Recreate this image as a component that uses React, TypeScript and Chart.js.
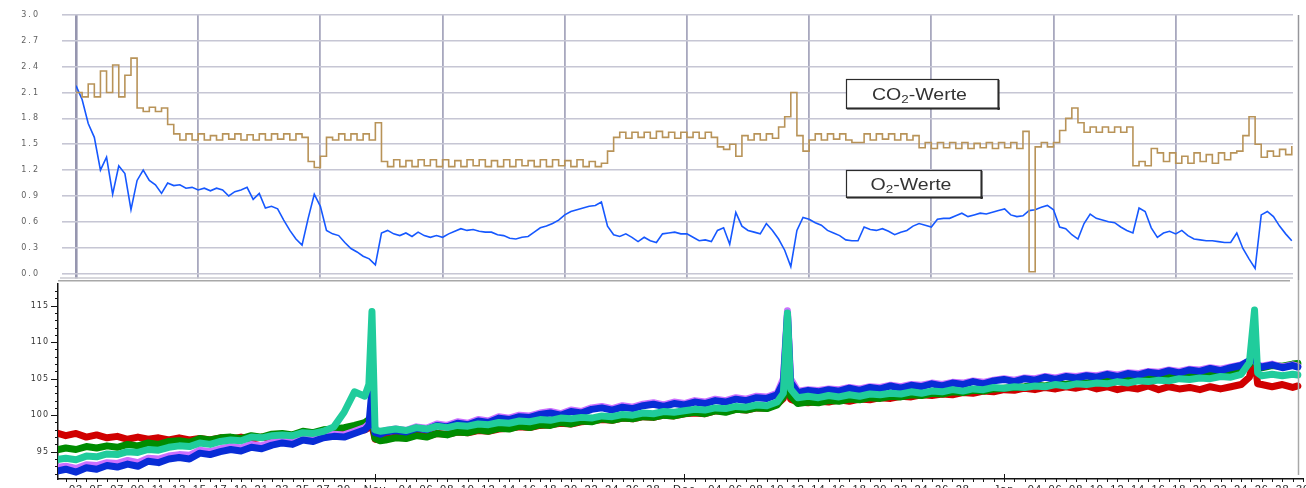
import React, { useEffect, useRef } from 'react';
import { Chart, registerables } from 'chart.js';

Chart.register(...registerables);

// ---- Upper panel: gas readings, one sample every 0.05 grid divisions ----
const gasStep = 0.05;

const co2Values = [
  2.10, 2.05, 2.20, 2.05, 2.35, 2.10, 2.42, 2.05, 2.30, 2.50,
  1.92, 1.88, 1.93, 1.88, 1.92, 1.73, 1.62, 1.55, 1.62, 1.55,
  1.62, 1.55, 1.60, 1.55, 1.62, 1.56, 1.62, 1.55, 1.61, 1.55,
  1.62, 1.55, 1.62, 1.56, 1.62, 1.55, 1.62, 1.58, 1.30, 1.23,
  1.36, 1.58, 1.55, 1.62, 1.55, 1.62, 1.55, 1.62, 1.55, 1.75,
  1.30, 1.24, 1.32, 1.24, 1.31, 1.24, 1.32, 1.25, 1.32, 1.24,
  1.32, 1.24, 1.31, 1.24, 1.32, 1.25, 1.32, 1.24, 1.31, 1.24,
  1.32, 1.24, 1.32, 1.25, 1.31, 1.24, 1.32, 1.24, 1.32, 1.25,
  1.31, 1.24, 1.32, 1.24, 1.30, 1.24, 1.28, 1.42, 1.58, 1.64,
  1.57, 1.64, 1.58, 1.64, 1.57, 1.65, 1.58, 1.64, 1.57, 1.64,
  1.58, 1.64, 1.57, 1.64, 1.58, 1.47, 1.44, 1.50, 1.36, 1.60,
  1.55, 1.62, 1.55, 1.62, 1.57, 1.70, 1.82, 2.10, 1.60, 1.42,
  1.55, 1.62, 1.55, 1.62, 1.56, 1.62, 1.55, 1.52, 1.52, 1.62,
  1.55, 1.62, 1.56, 1.62, 1.55, 1.62, 1.55, 1.60, 1.46, 1.52,
  1.45, 1.52, 1.46, 1.52, 1.45, 1.52, 1.45, 1.51, 1.46, 1.52,
  1.45, 1.52, 1.46, 1.52, 1.45, 1.65, 0.02, 1.47, 1.52, 1.47,
  1.52, 1.66, 1.80, 1.92, 1.75, 1.64, 1.70, 1.64, 1.70, 1.64,
  1.70, 1.64, 1.70, 1.25, 1.30, 1.25, 1.45, 1.40, 1.30, 1.40,
  1.28, 1.36, 1.28, 1.40, 1.30, 1.38, 1.28, 1.40, 1.32, 1.40,
  1.42, 1.60, 1.82, 1.50, 1.35, 1.42, 1.36, 1.44, 1.38, 1.48,
];

const o2Values = [
  2.18, 2.02, 1.74, 1.58, 1.20, 1.35, 0.92, 1.25, 1.16, 0.74,
  1.08, 1.20, 1.08, 1.03, 0.93, 1.05, 1.02, 1.03, 0.99, 1.00,
  0.97, 0.99, 0.96, 0.99, 0.97, 0.90, 0.95, 0.97, 1.00, 0.86,
  0.93, 0.76, 0.78, 0.75, 0.62, 0.50, 0.40, 0.33, 0.64, 0.92,
  0.78, 0.50, 0.46, 0.44, 0.36, 0.29, 0.25, 0.20, 0.17, 0.10,
  0.47, 0.50, 0.46, 0.44, 0.47, 0.43, 0.48, 0.44, 0.42, 0.44,
  0.42, 0.46, 0.49, 0.52, 0.50, 0.51, 0.49, 0.48, 0.48, 0.45,
  0.44, 0.41, 0.40, 0.42, 0.43, 0.48, 0.53, 0.55, 0.58, 0.62,
  0.68, 0.72, 0.74, 0.76, 0.78, 0.79, 0.83, 0.55, 0.45, 0.43,
  0.46, 0.42, 0.37, 0.42, 0.38, 0.36, 0.46, 0.47, 0.48, 0.46,
  0.46, 0.42, 0.38, 0.39, 0.37, 0.50, 0.53, 0.34, 0.71, 0.55,
  0.50, 0.48, 0.46, 0.58, 0.50, 0.40, 0.27, 0.08, 0.50, 0.65,
  0.63, 0.59, 0.56, 0.50, 0.47, 0.44, 0.39, 0.38, 0.38, 0.54,
  0.51, 0.50, 0.52, 0.49, 0.45, 0.48, 0.50, 0.55, 0.58, 0.56,
  0.54, 0.63, 0.64, 0.64, 0.67, 0.70, 0.66, 0.68, 0.70, 0.69,
  0.71, 0.73, 0.75, 0.68, 0.66, 0.67, 0.73, 0.74, 0.77, 0.79,
  0.74, 0.54, 0.52, 0.45, 0.40, 0.58, 0.69, 0.64, 0.62, 0.60,
  0.59, 0.54, 0.50, 0.47, 0.76, 0.72, 0.53, 0.42, 0.47, 0.49,
  0.46, 0.50, 0.44, 0.40, 0.39, 0.38, 0.38, 0.37, 0.36, 0.36,
  0.47, 0.29, 0.17, 0.06, 0.68, 0.72, 0.66, 0.55, 0.46, 0.38,
];

const gasTicks = [0, 0.3, 0.6, 0.9, 1.2, 1.5, 1.8, 2.1, 2.4, 2.7, 3.0];
const gasDivisions = [0, 1, 2, 3, 4, 5, 6, 7, 8, 9];

// ---- Lower panel: temperature channels, by day counted from 1 Oct ----
const days = [
  0, 1, 2, 3, 4, 5, 6, 7, 8, 9, 10, 11, 12, 13, 14, 15, 16, 17, 18, 19,
  20, 21, 22, 23, 24, 25, 26, 27, 28, 29,
  30, 30.4, 30.7, 31, 31.5,
  32, 33, 34, 35, 36, 37, 38, 39, 40, 41, 42, 43, 44, 45, 46, 47, 48, 49, 50,
  51, 52, 53, 54, 55, 56, 57, 58, 59, 60, 61, 62, 63, 64, 65, 66, 67, 68, 69, 70,
  70.6, 71, 71.3,
  72, 73, 74, 75, 76, 77, 78, 79, 80, 81, 82, 83, 84, 85, 86, 87, 88, 89, 90, 91,
  92, 93, 94, 95, 96, 97, 98, 99, 100, 101, 102, 103, 104, 105, 106, 107, 108,
  109, 110, 111, 112, 113, 114, 115,
  115.8, 116.3, 116.6,
  117, 118, 119, 120, 120.5,
];

const tealValues = [
  93.9, 94.1, 93.9, 94.4, 94.3, 94.7, 94.6, 95.0, 94.9, 95.3,
  95.2, 95.6, 95.8, 95.7, 96.2, 96.0, 96.4, 96.6, 96.5, 97.0,
  96.9, 97.2, 97.3, 97.2, 97.6, 97.5, 97.8, 98.4, 100.4, 103.2,
  102.6, 104.2, 114.2, 98.0, 97.8,
  97.9, 98.1, 97.9, 98.3, 98.1, 98.5, 98.3, 98.6, 98.5, 98.8,
  98.7, 99.0, 98.9, 99.2, 99.1, 99.4, 99.3, 99.6, 99.5, 99.7,
  99.6, 99.9, 99.8, 100.1, 100.0, 100.3, 100.2, 100.5, 100.4, 100.6,
  100.8, 100.7, 101.0, 100.9, 101.2, 101.1, 101.4, 101.3, 101.8,
  103.0, 114.0, 103.6,
  102.4, 102.6, 102.4, 102.7, 102.5, 102.8, 102.6, 102.9, 102.8, 103.0,
  102.9, 103.2, 103.0, 103.3, 103.2, 103.5, 103.3, 103.6, 103.5, 103.8,
  103.7, 103.9, 103.8, 104.0, 103.9, 104.2, 104.0, 104.3, 104.2, 104.4,
  104.3, 104.6, 104.4, 104.7, 104.6, 104.8, 104.7, 105.0, 104.9, 105.1,
  105.0, 105.3, 105.2, 105.6,
  107.2, 114.4, 105.8,
  105.4, 105.6, 105.4, 105.6, 105.5,
];

const blueValues = [
  92.3, 92.6, 92.2, 92.8, 92.6, 93.1, 92.9, 93.3, 93.0, 93.7,
  93.5, 94.0, 94.2, 94.0, 94.8, 94.6, 95.0, 95.3, 95.1, 95.6,
  95.4, 95.9, 96.2, 96.0, 96.6, 96.4, 96.9, 97.1, 97.0, 97.5,
  98.0, 98.6, 103.5, 97.6, 97.4,
  97.7, 97.9, 97.7, 98.2, 98.0, 98.6, 98.4, 98.9, 98.7, 99.2,
  99.0, 99.6, 99.4, 99.8, 99.7, 100.1, 100.3, 100.0, 100.5, 100.3,
  100.8, 101.0, 100.7, 101.1, 100.9, 101.3, 101.5, 101.2, 101.6, 101.4,
  101.8, 101.6, 102.0, 101.8, 102.2, 102.0, 102.4, 102.3, 102.8,
  104.5, 113.8, 104.5,
  103.1, 103.4, 103.2, 103.5, 103.3, 103.7, 103.4, 103.8, 103.6, 104.0,
  103.7, 104.1, 103.9, 104.3, 104.0, 104.4, 104.2, 104.6, 104.3, 104.7,
  104.9, 104.6, 105.0, 104.8, 105.2, 104.9, 105.3, 105.1, 105.4, 105.2,
  105.6, 105.3, 105.7, 105.5, 105.9, 105.7, 106.1, 105.8, 106.2, 106.0,
  106.4, 106.1, 106.5, 106.8,
  107.5, 108.0, 106.8,
  106.6, 106.9, 106.5, 106.8, 106.6,
];

const violetValues = [
  92.8, 93.0, 92.7, 93.2, 93.1, 93.5, 93.4, 93.8, 93.5, 94.1,
  94.0, 94.4, 94.6, 94.5, 95.2, 95.0, 95.4, 95.7, 95.5, 96.0,
  95.8, 96.3, 96.5, 96.4, 96.9, 96.7, 97.2, 97.4, 97.3, 97.8,
  98.3, 98.8, 99.8, 97.8, 97.6,
  97.9, 98.1, 97.9, 98.4, 98.2, 98.8, 98.6, 99.1, 98.9, 99.4,
  99.2, 99.8, 99.6, 100.0, 99.9, 100.3, 100.5, 100.2, 100.7, 100.5,
  101.0, 101.2, 100.9, 101.3, 101.1, 101.5, 101.7, 101.4, 101.8, 101.6,
  102.0, 101.8, 102.2, 102.0, 102.4, 102.2, 102.6, 102.5, 103.0,
  105.0, 114.3, 105.0,
  103.3, 103.5, 103.4, 103.6, 103.5, 103.8, 103.6, 103.9, 103.8, 104.1,
  103.9, 104.2, 104.1, 104.4, 104.2, 104.5, 104.4, 104.7, 104.5, 104.8,
  105.0, 104.8, 105.1, 105.0, 105.3, 105.1, 105.4, 105.3, 105.5, 105.4,
  105.7, 105.5, 105.8, 105.7, 106.0, 105.9, 106.2, 106.0, 106.3, 106.2,
  106.5, 106.3, 106.6, 106.9,
  107.4, 107.8, 106.9,
  106.7, 107.0, 106.6, 106.9, 106.7,
];

const greenValues = [
  95.2, 95.5, 95.3, 95.7, 95.5, 95.8, 95.6, 96.0, 95.8, 96.2,
  96.0, 96.4, 96.5, 96.3, 96.8, 96.6, 96.9, 97.0, 96.8, 97.2,
  97.0, 97.4, 97.5, 97.3, 97.8, 97.6, 98.0, 98.1, 98.3, 98.6,
  99.0, 99.4, 100.0, 96.8, 96.5,
  96.6, 96.9, 96.8, 97.2, 97.0, 97.5, 97.3, 97.7, 97.6, 98.0,
  97.8, 98.2, 98.1, 98.5, 98.3, 98.7, 98.6, 99.0, 98.8, 99.2,
  99.1, 99.5, 99.3, 99.6, 99.5, 99.8, 99.7, 100.0, 99.9, 100.2,
  100.4, 100.2, 100.6, 100.4, 100.8, 100.7, 101.0, 100.9, 101.4,
  102.5, 112.0, 102.6,
  101.6, 101.8, 101.7, 102.0, 101.9, 102.2, 102.1, 102.4, 102.3, 102.6,
  102.5, 102.8, 102.7, 103.0, 102.9, 103.2, 103.1, 103.4, 103.3, 103.6,
  103.7, 103.8, 103.9, 104.1, 104.0, 104.3, 104.2, 104.5, 104.4, 104.7,
  104.6, 104.9, 104.8, 105.1, 105.0, 105.3, 105.2, 105.5, 105.5, 105.7,
  105.8, 106.0, 106.1, 106.4,
  107.0, 108.5, 106.6,
  106.5, 106.8, 106.7, 107.0, 107.1,
];

const redValues = [
  97.6, 97.2, 97.5, 97.0, 97.3, 96.9, 97.1, 96.7, 97.0, 96.7,
  96.9, 96.6, 96.9, 96.6, 96.8, 96.6, 96.9, 96.7, 97.0, 96.7,
  97.0, 96.8, 97.1, 96.9, 97.1, 97.0, 97.3, 97.2, 97.5, 97.8,
  98.0, 98.3, 98.6, 96.7, 96.6,
  96.8, 97.0, 96.9, 97.3, 97.1, 97.5, 97.4, 97.7, 97.6, 97.9,
  97.8, 98.1, 98.2, 98.4, 98.3, 98.6, 98.7, 98.9, 98.8, 99.1,
  99.2, 99.4, 99.3, 99.6, 99.5, 99.8, 99.7, 100.0, 99.9, 100.2,
  100.3, 100.2, 100.6, 100.5, 100.8, 100.7, 101.0, 101.0, 101.5,
  102.3, 110.0, 102.2,
  101.8, 101.7, 101.9, 101.8, 102.1, 101.9, 102.2, 102.1, 102.4, 102.3,
  102.6, 102.5, 102.8, 102.7, 102.9, 102.8, 103.1, 103.0, 103.3, 103.2,
  103.5, 103.4, 103.7, 103.5, 103.8, 103.6, 103.9, 103.7, 104.0, 103.6,
  103.9, 103.5, 103.8, 103.6, 104.0, 103.5, 103.9, 103.6, 103.8, 103.5,
  103.9, 103.6, 103.9, 104.2,
  105.2, 108.0, 104.3,
  104.2, 103.9, 104.2, 103.8, 104.0,
];

const tempTicks = [95, 100, 105, 110, 115];
const monthStartDays = [31, 61, 92];
const monthNames = ['Nov', 'Dec', 'Jan'];

const pad2 = (n: number) => (n < 10 ? '0' + n : String(n));

// Month name at each month start, day numbers every second day in between.
function dayLabel(d: number): string {
  const m = monthStartDays.indexOf(d);
  if (m >= 0) return monthNames[m];
  if (d < monthStartDays[0]) {
    const day = d + 1;
    return day % 2 === 1 && day >= 3 && day <= 29 ? pad2(day) : '';
  }
  let start = monthStartDays[0];
  for (const s of monthStartDays) if (d >= s) start = s;
  const day = d - start + 1;
  const last = start === monthStartDays[monthStartDays.length - 1] ? 30 : 28;
  return day % 2 === 0 && day >= 4 && day <= last ? pad2(day) : '';
}

function line(ctx: CanvasRenderingContext2D, x1: number, y1: number, x2: number, y2: number) {
  ctx.beginPath();
  ctx.moveTo(x1, y1);
  ctx.lineTo(x2, y2);
  ctx.stroke();
}

// Framed caption with a subscript "2" in the middle.
function drawCaption(ctx: CanvasRenderingContext2D, x: number, y: number, w: number, h: number, head: string, tail: string) {
  ctx.save();
  ctx.fillStyle = '#ffffff';
  ctx.fillRect(x, y, w, h);
  ctx.strokeStyle = '#2b2b2b';
  ctx.lineWidth = 1.2;
  ctx.strokeRect(x + 0.5, y + 0.5, w - 1, h - 1);
  ctx.fillStyle = '#2b2b2b';
  ctx.fillRect(x + w - 1.5, y + 1, 2, h);
  ctx.fillRect(x + 1, y + h - 1.5, w, 2);

  const big = '16px "Liberation Sans", Arial, sans-serif';
  const small = '11px "Liberation Sans", Arial, sans-serif';
  ctx.font = big;
  const w1 = ctx.measureText(head).width;
  const w3 = ctx.measureText(tail).width;
  ctx.font = small;
  const w2 = ctx.measureText('2').width;
  const sx = 1.22;
  const total = (w1 + w2 + w3) * sx;
  ctx.translate(x + (w - total) / 2 - 3, y + h / 2 + 5.5);
  ctx.scale(sx, 1);
  ctx.fillStyle = '#333333';
  ctx.textBaseline = 'alphabetic';
  ctx.textAlign = 'left';
  ctx.font = big;
  ctx.fillText(head, 0, 0);
  ctx.font = small;
  ctx.fillText('2', w1, 3.5);
  ctx.font = big;
  ctx.fillText(tail, w1 + w2, 0);
  ctx.restore();
}

const gasFrame = {
  id: 'gasFrame',
  beforeDraw(chart: any) {
    chart.ctx.letterSpacing = '2px';
  },
  afterDraw(chart: any) {
    const ctx: CanvasRenderingContext2D = chart.ctx;
    const area = chart.chartArea;
    ctx.save();
    ctx.letterSpacing = '0px';
    ctx.strokeStyle = 'rgb(202,202,208)';
    ctx.lineWidth = 1.5;
    line(ctx, 60, area.bottom + 4.5, area.right, area.bottom + 4.5);
    ctx.strokeStyle = 'rgb(150,150,155)';
    ctx.lineWidth = 1.5;
    line(ctx, 1298.5, area.top, 1298.5, chart.height);
    drawCaption(ctx, 846, 79, 153, 30, 'CO', '-Werte');
    drawCaption(ctx, 846, 170, 136, 28, 'O', '-Werte');
    ctx.restore();
  },
};

const tempFrame = {
  id: 'tempFrame',
  beforeDraw(chart: any) {
    chart.ctx.letterSpacing = '1px';
  },
  afterDraw(chart: any) {
    const ctx: CanvasRenderingContext2D = chart.ctx;
    const area = chart.chartArea;
    const xs = chart.scales.x;
    const ys = chart.scales.y;
    ctx.save();
    ctx.letterSpacing = '0px';
    ctx.strokeStyle = '#151515';
    ctx.lineWidth = 1;
    for (let v = Math.ceil(ys.min); v <= ys.max; v++) {
      const py = Math.round(ys.getPixelForValue(v)) + 0.5;
      const len = v % 5 === 0 ? 7 : 3;
      line(ctx, area.left - len, py, area.left, py);
    }
    for (let d = Math.ceil(xs.min); d <= xs.max; d++) {
      const px = Math.round(xs.getPixelForValue(d)) + 0.5;
      const isMonth = monthStartDays.includes(d);
      line(ctx, px, area.bottom - (isMonth ? 5 : 0), px, area.bottom + 3);
    }
    ctx.strokeStyle = 'rgb(168,168,168)';
    ctx.lineWidth = 1.5;
    line(ctx, area.left, 0.75, 1290, 0.75);
    line(ctx, 1298.5, 0, 1298.5, 195);
    ctx.restore();
  },
};

const toPoints = (xs: number[], ys: number[]) => ys.map((y, i) => ({ x: xs[i], y }));
const gasX = co2Values.map((_, i) => i * gasStep);

// Fixed axis boxes: no extra room reserved for overhanging tick labels.
const fixWidth = (w: number) => (s: any) => {
  s.width = w;
  s.paddingTop = 0;
  s.paddingBottom = 0;
};
const fixHeight = (h: number) => (s: any) => {
  s.height = h;
  s.paddingLeft = 0;
  s.paddingRight = 0;
};

export default function App() {
  const topRef = useRef<HTMLCanvasElement>(null);
  const bottomRef = useRef<HTMLCanvasElement>(null);

  useEffect(() => {
    const top = new Chart(topRef.current as HTMLCanvasElement, {
      type: 'line',
      data: {
        datasets: [
          {
            label: 'CO2',
            data: toPoints(gasX, co2Values),
            borderColor: 'rgb(184,147,88)',
            borderWidth: 1.6,
            pointRadius: 0,
            stepped: true,
          },
          {
            label: 'O2',
            data: toPoints(gasX, o2Values),
            borderColor: 'rgb(22,88,255)',
            borderWidth: 1.6,
            pointRadius: 0,
            tension: 0,
          },
        ],
      },
      options: {
        animation: false,
        responsive: false,
        maintainAspectRatio: false,
        layout: { autoPadding: false, padding: { left: 0, right: 13, top: 15, bottom: 0 } },
        plugins: { legend: { display: false }, tooltip: { enabled: false } },
        scales: {
          x: {
            type: 'linear',
            min: 0,
            max: 9.96,
            afterBuildTicks: (s: any) => {
              s.ticks = gasDivisions.map((v) => ({ value: v }));
            },
            ticks: { display: false },
            grid: {
              color: (c: any) => (c.index === 0 ? 'rgb(150,150,175)' : 'rgb(168,168,190)'),
              lineWidth: (c: any) => (c.index === 0 ? 2.6 : 1.8),
              tickLength: 5,
            },
            border: { display: false },
            afterFit: fixHeight(6.5),
          },
          y: {
            min: 0,
            max: 3,
            afterBuildTicks: (s: any) => {
              s.ticks = gasTicks.map((v) => ({ value: v }));
            },
            ticks: {
              callback: (v: any) => Number(v).toFixed(1),
              font: { family: '"DejaVu Sans", sans-serif', size: 8 },
              color: '#606060',
              padding: 22,
            },
            grid: { color: 'rgb(198,198,212)', lineWidth: 1.6, tickLength: 14 },
            border: { display: false },
            afterFit: fixWidth(76),
          },
        },
      },
      plugins: [gasFrame],
    } as any);

    const seriesStyle = (color: string) => ({
      borderColor: color,
      borderWidth: 7,
      pointRadius: 0,
      tension: 0,
      borderJoinStyle: 'round',
      borderCapStyle: 'round',
    });

    const bottom = new Chart(bottomRef.current as HTMLCanvasElement, {
      type: 'line',
      data: {
        datasets: [
          { label: 'T5', data: toPoints(days, tealValues), ...seriesStyle('rgb(32,204,156)') },
          { label: 'T4', data: toPoints(days, blueValues), ...seriesStyle('rgb(8,44,214)') },
          { label: 'T3', data: toPoints(days, violetValues), ...seriesStyle('rgb(204,112,255)') },
          { label: 'T2', data: toPoints(days, greenValues), ...seriesStyle('rgb(0,140,0)') },
          { label: 'T1', data: toPoints(days, redValues), ...seriesStyle('rgb(208,0,0)') },
        ],
      },
      options: {
        animation: false,
        responsive: false,
        maintainAspectRatio: false,
        layout: { autoPadding: false, padding: { left: 0, right: 3, top: 4, bottom: 0 } },
        plugins: { legend: { display: false }, tooltip: { enabled: false } },
        scales: {
          x: {
            type: 'linear',
            min: 0.25,
            max: 121,
            afterBuildTicks: (s: any) => {
              const t = [];
              for (let d = 1; d <= 121; d++) t.push({ value: d });
              s.ticks = t;
            },
            ticks: {
              autoSkip: false,
              maxRotation: 0,
              minRotation: 0,
              callback: (v: any) => dayLabel(Number(v)),
              font: { family: '"Liberation Sans", Arial, sans-serif', size: 11 },
              color: '#222222',
              padding: 4,
            },
            grid: { display: false, drawTicks: false },
            border: { color: '#151515', width: 1.5 },
            afterFit: fixHeight(9),
          },
          y: {
            min: 91.26,
            max: 117.97,
            afterBuildTicks: (s: any) => {
              s.ticks = tempTicks.map((v) => ({ value: v }));
            },
            ticks: {
              font: { family: '"DejaVu Sans", sans-serif', size: 8 },
              color: '#333333',
              padding: 9,
            },
            grid: { display: false, drawTicks: false },
            border: { color: '#151515', width: 1.5 },
            afterFit: fixWidth(58),
          },
        },
      },
      plugins: [tempFrame],
    } as any);

    return () => {
      top.destroy();
      bottom.destroy();
    };
  }, []);

  return (
    <div
      style={{
        position: 'fixed',
        left: 0,
        top: 0,
        width: 1306,
        height: 488,
        background: '#ffffff',
        overflow: 'hidden',
      }}
    >
      <canvas
        ref={topRef}
        width={1306}
        height={280}
        style={{ position: 'absolute', left: 0, top: 0, width: 1306, height: 280 }}
      />
      <canvas
        ref={bottomRef}
        width={1306}
        height={208}
        style={{ position: 'absolute', left: 0, top: 280, width: 1306, height: 208 }}
      />
    </div>
  );
}
